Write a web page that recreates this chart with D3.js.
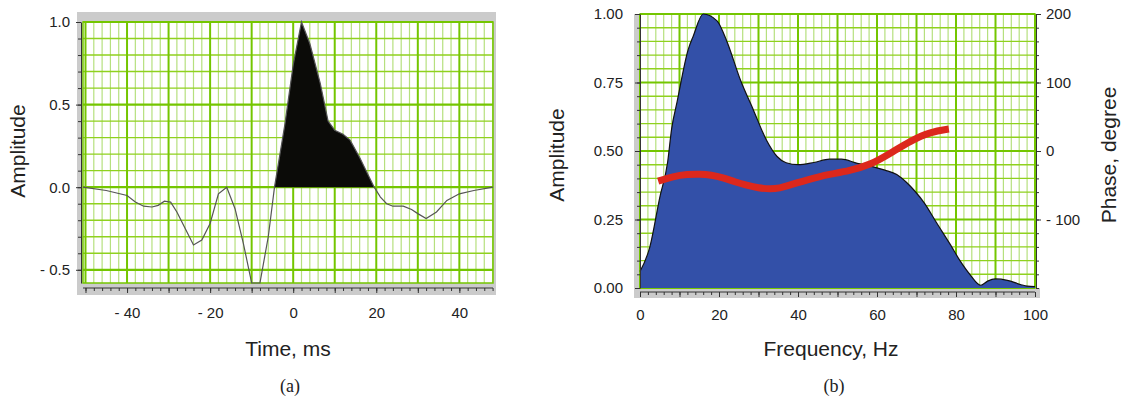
<!DOCTYPE html>
<html>
<head>
<meta charset="utf-8">
<script src="https://cdn.jsdelivr.net/npm/d3@7"></script>
<style>
  body { margin: 0; background: #fff; }
  svg text { font-family: "Liberation Sans", Arial, sans-serif; fill: #222; }
</style>
</head>
<body>
<div class="container"></div>
<script>
// wavelet (a): time, ms / amplitude
var waveT = [-50.6, -45, -40, -38, -36, -34, -32.5, -31, -29.5, -28, -26, -24, -22, -20, -18, -16, -14, -12, -10, -8, -6, -4.5,
             -2, 0, 2, 4, 6.5, 8.4, 10, 12, 13.7, 16, 19.5, 21, 22.5, 24, 26.5, 28.5, 30, 32, 34.5, 37, 40, 43.5, 48.1];
var waveA = [0, -0.02, -0.05, -0.09, -0.115, -0.12, -0.11, -0.085, -0.09, -0.15, -0.25, -0.35, -0.32, -0.22, -0.04, 0.0, -0.13, -0.34, -0.58, -0.58, -0.3, 0,
             0.38, 0.74, 1.0, 0.87, 0.63, 0.40, 0.345, 0.32, 0.285, 0.18, 0, -0.06, -0.1, -0.115, -0.115, -0.135, -0.16, -0.19, -0.15, -0.08, -0.04, -0.02, 0];

// spectrum (b): frequency, Hz / amplitude
var specF = [0, 2.5, 5, 7, 8, 9.4, 12.2, 13.5, 16, 19.5, 22, 25.4, 28.7, 32, 34.7, 37, 40, 44, 48, 51, 55, 58.4, 62, 65, 67.5,
             69.5, 72, 75, 78.5, 81, 83.5, 86.3, 88, 90, 93, 96.5, 98, 100];
var specA = [0.06, 0.15, 0.33, 0.46, 0.58, 0.68, 0.87, 0.92, 1.0, 0.975, 0.9, 0.76, 0.65, 0.54, 0.48, 0.457, 0.45, 0.458, 0.47, 0.47, 0.455, 0.445, 0.43, 0.414, 0.385,
             0.355, 0.31, 0.24, 0.16, 0.1, 0.05, 0.01, 0.025, 0.033, 0.028, 0.012, 0.007, 0.005];

// phase, degree
var phaseF = [4.6, 8.4, 12, 15.2, 18, 21, 24, 27, 30, 33, 35.5, 37.3, 40, 42.4, 45, 48, 53, 58.4, 63.5, 68.5, 73.6, 78.2];
var phaseP = [-44, -37, -34, -33.5, -35, -39, -45, -50, -54, -55.5, -54, -51, -46, -42, -38, -34, -29, -20, -3, 15, 28, 32];

// tick labels
var aYLabels = [-0.5, 0, 0.5, 1.0];
var aXLabels = [-40, -20, 0, 20, 40];
var bYLabels = [0, 0.25, 0.5, 0.75, 1.0];
var bY2Labels = [-100, 0, 100, 200];
var bXLabels = [0, 20, 40, 60, 80, 100];

var W = 1126, H = 402;
var svg = d3.select(".container").append("svg").attr("width", W).attr("height", H);

var majorGreen = "#74c600", minorH = "#8fd11e", minorV = "#b6e07e", frame = "#cbcbcb", axisCol = "#333";

function fmtNeg(d, k) {
  var s = k == null ? String(Math.abs(d)) : Math.abs(d).toFixed(k);
  return d < 0 ? "- " + s : s;
}

function grid(g, x, y, vx, vMajor, hy, hMajor) {
  var x0 = x.range()[0], x1 = x.range()[1], y0 = y.range()[0], y1 = y.range()[1];
  g.selectAll(".vmin").data(vx.filter(function(d){ return !vMajor(d); })).enter().append("line")
    .attr("x1", x).attr("x2", x).attr("y1", y0).attr("y2", y1)
    .attr("stroke", minorV).attr("stroke-width", 1.2);
  g.selectAll(".hmin").data(hy.filter(function(d){ return !hMajor(d); })).enter().append("line")
    .attr("y1", y).attr("y2", y).attr("x1", x0).attr("x2", x1)
    .attr("stroke", minorH).attr("stroke-width", 1.4);
  g.selectAll(".vmaj").data(vx.filter(vMajor)).enter().append("line")
    .attr("x1", x).attr("x2", x).attr("y1", y0).attr("y2", y1)
    .attr("stroke", majorGreen).attr("stroke-width", 2);
  g.selectAll(".hmaj").data(hy.filter(hMajor)).enter().append("line")
    .attr("y1", y).attr("y2", y).attr("x1", x0).attr("x2", x1)
    .attr("stroke", majorGreen).attr("stroke-width", 2.2);
  g.append("rect").attr("x", x0).attr("y", y1).attr("width", x1 - x0).attr("height", y0 - y1)
    .attr("fill", "none").attr("stroke", majorGreen).attr("stroke-width", 1.5);
}

function styleAxis(g) {
  g.select(".domain").attr("stroke", axisCol);
  g.selectAll(".tick line").attr("stroke", axisCol);
  g.selectAll("text").style("font-size", "15px").attr("fill", "#222");
}

// ---------------- panel (a) ----------------
var xa = d3.scaleLinear().domain([-50.6, 48.1]).range([83, 493]);
var ya = d3.scaleLinear().domain([-0.58, 1.0]).range([283, 22]);

var ga = svg.append("g");
ga.append("rect").attr("x", 77).attr("y", 12).attr("width", 419).attr("height", 283).attr("fill", frame);
ga.append("rect").attr("x", 83).attr("y", 22).attr("width", 410).attr("height", 261).attr("fill", "#fff");

grid(ga.append("g"), xa, ya, d3.range(-50, 49, 2), function(d){ return d % 10 === 0; },
     d3.range(-5, 11).map(function(i){ return i / 10; }), function(d){ return Math.abs(d * 10) % 5 === 0; });

var waveData = waveT.map(function(t, i){ return [t, waveA[i]]; });
ga.append("path").datum(waveData)
  .attr("d", d3.area().x(function(d){ return xa(d[0]); }).y0(ya(0)).y1(function(d){ return ya(Math.max(0, d[1])); }))
  .attr("fill", "#0b0b08");
ga.append("path").datum(waveData)
  .attr("d", d3.line().x(function(d){ return xa(d[0]); }).y(function(d){ return ya(d[1]); }))
  .attr("fill", "none").attr("stroke", "#555").attr("stroke-width", 1.2);

// left axis (a)
var ayMinor = d3.range(-5, 11).map(function(i){ return i / 10; });
ga.append("g").attr("transform", "translate(81,0)")
  .call(d3.axisLeft(ya).tickValues(ayMinor).tickSize(3).tickSizeOuter(0).tickFormat(""))
  .call(styleAxis);
ga.append("g").attr("transform", "translate(81,0)")
  .call(d3.axisLeft(ya).tickValues(aYLabels).tickSize(5).tickPadding(6).tickFormat(function(d){ return fmtNeg(d, 1); }))
  .call(styleAxis).select(".domain").remove();

// bottom ruler (a)
var axAxis = ga.append("g").attr("transform", "translate(0,288)");
axAxis.append("line").attr("x1", 83).attr("x2", 493).attr("stroke", axisCol);
axAxis.call(d3.axisBottom(xa).tickValues(d3.range(-50, 49, 2)).tickSize(3).tickFormat(""))
  .call(styleAxis).select(".domain").remove();
ga.append("g").attr("transform", "translate(0,288)")
  .call(d3.axisBottom(xa).tickValues(d3.range(-50, 49, 10)).tickSize(5).tickPadding(14)
        .tickFormat(function(d){ return aXLabels.indexOf(d) >= 0 ? fmtNeg(d) : ""; }))
  .call(styleAxis).select(".domain").remove();

ga.append("text").attr("transform", "translate(25,151) rotate(-90)").attr("text-anchor", "middle")
  .style("font-size", "21px").text("Amplitude");
ga.append("text").attr("x", 288).attr("y", 356).attr("text-anchor", "middle")
  .style("font-size", "21px").text("Time, ms");
ga.append("text").attr("x", 290).attr("y", 392).attr("text-anchor", "middle")
  .style("font-family", "'Liberation Serif', 'Times New Roman', serif").style("font-size", "18px").text("(a)");

// ---------------- panel (b) ----------------
var xb = d3.scaleLinear().domain([0, 100]).range([640, 1035]);
var yb = d3.scaleLinear().domain([0, 1]).range([288, 14]);
var yb2 = d3.scaleLinear().domain([-200, 200]).range([288, 14]);

var gb = svg.append("g");
gb.append("rect").attr("x", 634).attr("y", 14).attr("width", 6).attr("height", 284).attr("fill", frame);
gb.append("rect").attr("x", 634).attr("y", 288).attr("width", 406).attr("height", 10).attr("fill", frame);
gb.append("rect").attr("x", 640).attr("y", 14).attr("width", 395).attr("height", 274).attr("fill", "#fff");

grid(gb.append("g"), xb, yb, d3.range(0, 101, 2), function(d){ return d % 10 === 0; },
     d3.range(0, 21).map(function(i){ return i / 20; }), function(d){ return Math.round(d * 20) % 5 === 0; });

var specData = specF.map(function(f, i){ return [f, specA[i]]; });
gb.append("path").datum(specData)
  .attr("d", d3.area().curve(d3.curveMonotoneX).x(function(d){ return xb(d[0]); }).y0(yb(0)).y1(function(d){ return yb(d[1]); }))
  .attr("fill", "#3350a8");
gb.append("path").datum(specData)
  .attr("d", d3.line().curve(d3.curveMonotoneX).x(function(d){ return xb(d[0]); }).y(function(d){ return yb(d[1]); }))
  .attr("fill", "none").attr("stroke", "#111").attr("stroke-width", 1.2);

var phaseData = phaseF.map(function(f, i){ return [f, phaseP[i]]; });
gb.append("path").datum(phaseData)
  .attr("d", d3.line().curve(d3.curveBasis).x(function(d){ return xb(d[0]); }).y(function(d){ return yb2(d[1]); }))
  .attr("fill", "none").attr("stroke", "#dc281c").attr("stroke-width", 7).attr("stroke-linecap", "butt");

// left axis (b)
gb.append("g").attr("transform", "translate(640,0)")
  .call(d3.axisLeft(yb).tickValues(d3.range(0, 21).map(function(i){ return i / 20; })).tickSize(3).tickSizeOuter(0).tickFormat(""))
  .call(styleAxis);
gb.append("g").attr("transform", "translate(640,0)")
  .call(d3.axisLeft(yb).tickValues(bYLabels).tickSize(5).tickPadding(12).tickFormat(d3.format(".2f")))
  .call(styleAxis).select(".domain").remove();

// right axis (b)
gb.append("g").attr("transform", "translate(1036,0)")
  .call(d3.axisRight(yb2).tickValues(d3.range(-200, 201, 20)).tickSize(3).tickSizeOuter(0).tickFormat(""))
  .call(styleAxis);
gb.append("g").attr("transform", "translate(1036,0)")
  .call(d3.axisRight(yb2).tickValues(bY2Labels).tickSize(5).tickPadding(5).tickFormat(function(d){ return fmtNeg(d); }))
  .call(styleAxis).select(".domain").remove();

// bottom ruler (b)
var bxAxis = gb.append("g").attr("transform", "translate(0,292)");
bxAxis.append("line").attr("x1", 640).attr("x2", 1035).attr("stroke", axisCol);
bxAxis.call(d3.axisBottom(xb).tickValues(d3.range(0, 101, 2)).tickSize(3).tickFormat(""))
  .call(styleAxis).select(".domain").remove();
gb.append("g").attr("transform", "translate(0,292)")
  .call(d3.axisBottom(xb).tickValues(d3.range(0, 101, 10)).tickSize(5).tickPadding(12)
        .tickFormat(function(d){ return bXLabels.indexOf(d) >= 0 ? d : ""; }))
  .call(styleAxis).select(".domain").remove();

gb.append("text").attr("transform", "translate(564,155) rotate(-90)").attr("text-anchor", "middle")
  .style("font-size", "21px").text("Amplitude");
gb.append("text").attr("transform", "translate(1116,155) rotate(-90)").attr("text-anchor", "middle")
  .style("font-size", "21px").text("Phase, degree");
gb.append("text").attr("x", 831).attr("y", 356).attr("text-anchor", "middle")
  .style("font-size", "21px").text("Frequency, Hz");
gb.append("text").attr("x", 834).attr("y", 392).attr("text-anchor", "middle")
  .style("font-family", "'Liberation Serif', 'Times New Roman', serif").style("font-size", "18px").text("(b)");
</script>
</body>
</html>
